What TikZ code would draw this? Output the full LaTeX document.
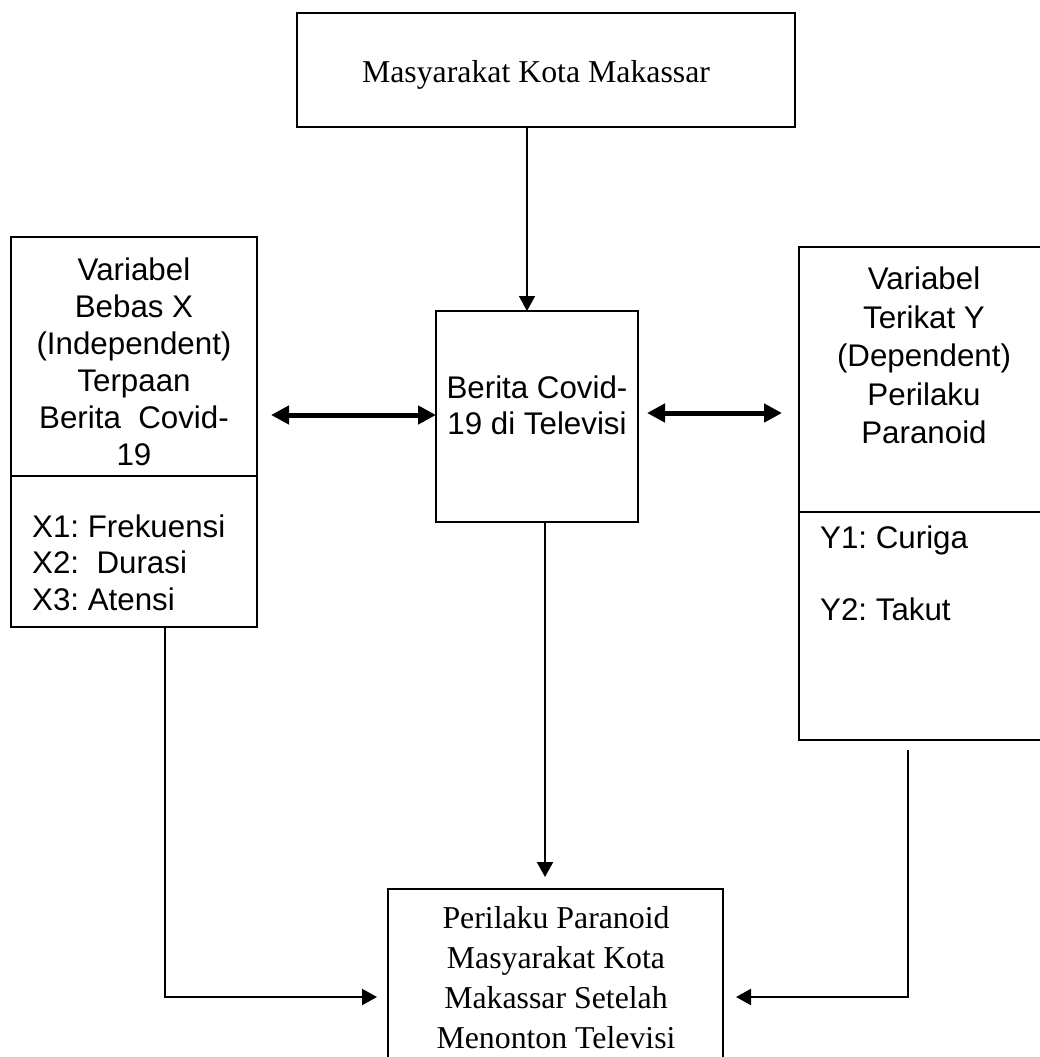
\documentclass[tikz,border=0pt]{standalone}
\usepackage{fontspec}
\setmainfont{Liberation Serif}
\newfontfamily\arialf{Liberation Sans}
\usetikzlibrary{arrows.meta}
\frenchspacing
\begin{document}
\begin{tikzpicture}[x=1pt,y=-1pt,
 box/.style={draw, line width=2.2pt, anchor=north west, inner sep=0pt, outer sep=0pt},
 sanstxt/.style={font=\arialf\fontsize{31.3}{37}\selectfont, inner sep=0pt, anchor=base},
 seriftxt/.style={font=\fontsize{31.8}{40}\selectfont, inner sep=0pt, anchor=base},
 conn/.style={line width=2.2pt, -{Triangle[length=15pt,width=16pt]}},
 dbl/.style={line width=5pt, {Triangle[length=18pt,width=18pt]}-{Triangle[length=18pt,width=18pt]}}]
\useasboundingbox (0,0) rectangle (1039,1057);
\fill[white] (0,0) rectangle (1039,1057);

% boxes
\node[box, minimum width=498pt, minimum height=114pt] (top) at (297,13) {};
\node[box, minimum width=202pt, minimum height=211pt] (mid) at (436,311) {};
\node[box, minimum width=246pt, minimum height=390pt] (left) at (11,237) {};
\node[box, minimum width=261pt, minimum height=493pt] (right) at (799,247) {};
\node[box, minimum width=335pt, minimum height=200pt] (bot) at (388,889) {};

% dividers
\coordinate (ld) at (0,476);
\coordinate (rd) at (0,512);
\draw[line width=2.2pt] (left.west |- ld) -- (left.east |- ld);
\draw[line width=2.2pt] (right.west |- rd) -- (right.east |- rd);

% texts
\node[seriftxt] (t1) at (536,82) {Masyarakat Kota Makassar};

\node[sanstxt] (m1) at (537,398) {Berita Covid-};
\node[sanstxt] (m2) at (537,434) {19 di Televisi};

\node[sanstxt] (a1) at (134,280) {Variabel};
\node[sanstxt] (a2) at (134,317) {Bebas X};
\node[sanstxt] (a3) at (134,354) {(Independent)};
\node[sanstxt] (a4) at (134,391) {Terpaan};
\node[sanstxt] (a5) at (134,428) {Berita~~Covid-};
\node[sanstxt] (a6) at (134,465) {19};
\node[sanstxt, anchor=base west] (a7) at (32,537) {X1: Frekuensi};
\node[sanstxt, anchor=base west] (a8) at (32,573) {X2:~~Durasi};
\node[sanstxt, anchor=base west] (a9) at (32,610) {X3: Atensi};

\node[sanstxt] (b1) at (924,289) {Variabel};
\node[sanstxt] (b2) at (924,328) {Terikat Y};
\node[sanstxt] (b3) at (924,366) {(Dependent)};
\node[sanstxt] (b4) at (924,405) {Perilaku};
\node[sanstxt] (b5) at (924,443) {Paranoid};
\node[sanstxt, anchor=base west] (b6) at (820,548) {Y1: Curiga};
\node[sanstxt, anchor=base west] (b7) at (820,620) {Y2: Takut};

\node[seriftxt] (c1) at (556,928) {Perilaku Paranoid};
\node[seriftxt] (c2) at (556,968) {Masyarakat Kota};
\node[seriftxt] (c3) at (556,1008) {Makassar Setelah};
\node[seriftxt] (c4) at (556,1048) {Menonton Televisi};

% connectors
\coordinate (xa) at (527,0);
\draw[conn, line width=1.4pt] (top.south -| xa) -- (mid.north -| xa);
\coordinate (xb) at (545,877);
\draw[conn] (mid.south -| xb) -- (xb);
\coordinate (lb) at (165,997);
\coordinate (le) at (377,997);
\draw[conn] (left.south -| lb) -- (lb) -- (le);
\coordinate (rs) at (908,750);
\coordinate (rb) at (908,997);
\coordinate (re) at (736,997);
\draw[conn] (rs) -- (rb) -- (re);
\coordinate (dl) at (271,415);
\draw[dbl] (dl) -- (mid.west |- dl);
\coordinate (dr1) at (647,413);
\coordinate (dr2) at (782,413);
\draw[dbl] (dr1) -- (dr2);
\end{tikzpicture}
\end{document}
